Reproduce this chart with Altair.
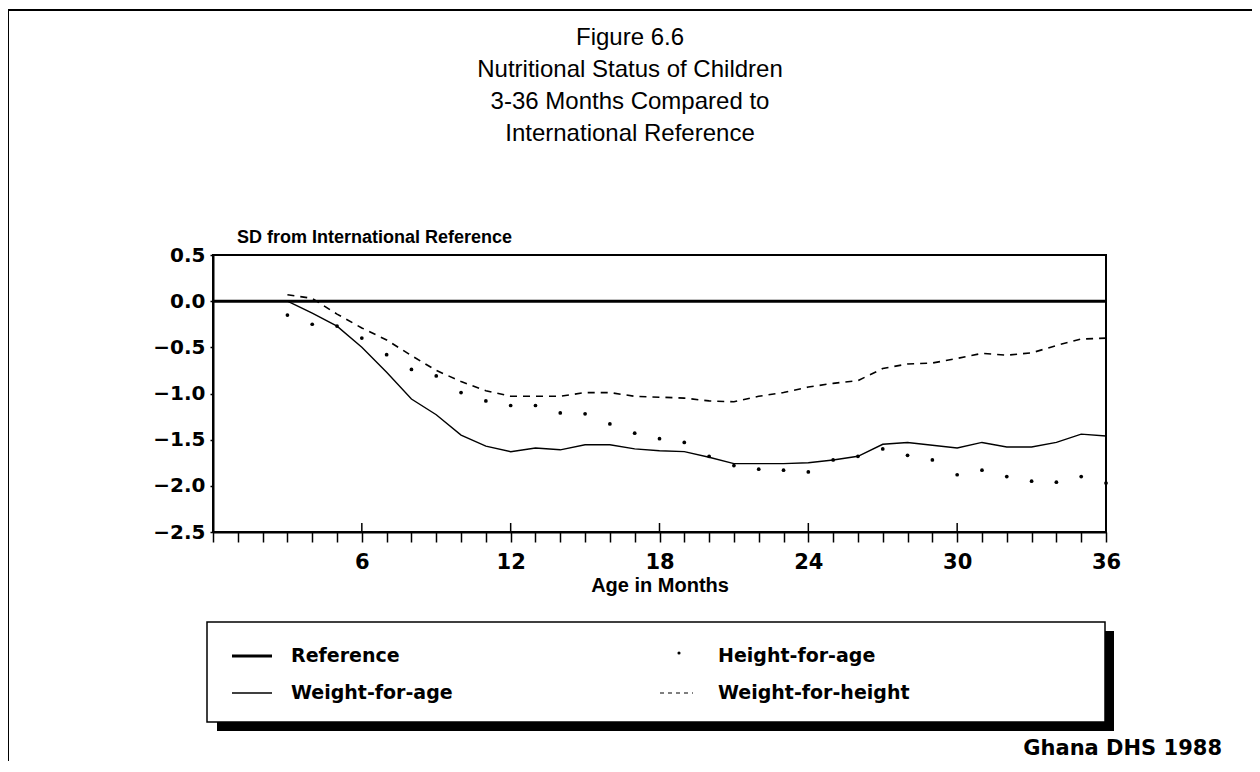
import altair as alt
import pandas as pd

# ---------------- data ----------------
months = list(range(3, 37))
weight_for_age = [0.00, -0.13, -0.27, -0.50, -0.77, -1.06, -1.23, -1.45, -1.57, -1.63,
                  -1.59, -1.61, -1.555, -1.555, -1.60, -1.62, -1.63, -1.69, -1.76, -1.76,
                  -1.76, -1.75, -1.72, -1.68, -1.55, -1.53, -1.56, -1.59, -1.53, -1.58,
                  -1.58, -1.53, -1.44, -1.46]
height_for_age = [-0.15, -0.25, -0.27, -0.40, -0.58, -0.74, -0.81, -0.99, -1.08, -1.13,
                  -1.13, -1.21, -1.22, -1.33, -1.43, -1.49, -1.53, -1.68, -1.78, -1.82,
                  -1.83, -1.85, -1.72, -1.68, -1.60, -1.67, -1.72, -1.88, -1.83, -1.90,
                  -1.95, -1.96, -1.90, -1.97]
weight_for_height = [0.07, 0.03, -0.14, -0.29, -0.42, -0.59, -0.75, -0.87, -0.97, -1.03,
                     -1.03, -1.03, -0.99, -0.99, -1.03, -1.04, -1.05, -1.08, -1.09, -1.03,
                     -0.99, -0.93, -0.89, -0.86, -0.73, -0.68, -0.67, -0.62, -0.565, -0.585,
                     -0.56, -0.48, -0.41, -0.40]
ref_months = [0, 36]
ref_values = [0.0, 0.0]

series_names = ["Reference", "Height-for-age", "Weight-for-age", "Weight-for-height"]
title_lines = ["Figure 6.6", "Nutritional Status of Children",
               "3-36 Months Compared to", "International Reference"]
y_title = "SD from International Reference"
x_title = "Age in Months"
source_note = "Ghana DHS 1988"
y_ticks = [-2.5, -2.0, -1.5, -1.0, -0.5, 0.0, 0.5]
x_ticks = list(range(0, 37))
x_major_ticks = [6, 12, 18, 24, 30, 36]

ref_df = pd.DataFrame({"month": ref_months, "value": ref_values, "series": series_names[0]})
wfa_df = pd.DataFrame({"month": months, "value": weight_for_age, "series": series_names[2]})
hfa_df = pd.DataFrame({"month": months, "value": height_for_age, "series": series_names[1]})
wfh_df = pd.DataFrame({"month": months, "value": weight_for_height, "series": series_names[3]})
major_df = pd.DataFrame({"month": x_major_ticks})

W, H = 893, 277
LBL = "DejaVu Sans"
TXT = "Liberation Sans"

x_enc = alt.X(
    "month:Q",
    scale=alt.Scale(domain=[0, 36], nice=False, zero=False),
    axis=alt.Axis(
        values=x_ticks,
        labelExpr="datum.value % 6 == 0 && datum.value > 0 ? datum.label : ''",
        labelOverlap=False, labelFlush=False,
        title=x_title, titleFont=TXT, titleFontWeight="bold", titleFontSize=20,
        titleColor="black", titlePadding=3,
        labelFont=LBL, labelFontWeight="bold", labelFontSize=21, labelColor="black",
        labelPadding=9,
        domainColor="black", domainWidth=2,
        tickColor="black", tickWidth=1.5, tickSize=10,
        grid=False,
    ),
)
y_enc = alt.Y(
    "value:Q",
    scale=alt.Scale(domain=[-2.5, 0.5], nice=False, zero=False),
    axis=alt.Axis(
        values=y_ticks, format=".1f", title=None,
        labelFont=LBL, labelFontWeight="bold", labelFontSize=20, labelColor="black",
        labelPadding=5, labelOverlap=False, labelFlush=False,
        domainColor="black", domainWidth=2,
        tickColor="black", tickWidth=1.5, tickSize=3,
        grid=False,
    ),
)

ref_layer = alt.Chart(ref_df).mark_line(color="black", strokeWidth=3).encode(x=x_enc, y=y_enc)
wfa_layer = alt.Chart(wfa_df).mark_line(color="black", strokeWidth=1.4).encode(x=x_enc, y=y_enc)
wfh_layer = alt.Chart(wfh_df).mark_line(color="black", strokeWidth=1.6, strokeDash=[7, 6]).encode(x=x_enc, y=y_enc)
hfa_layer = alt.Chart(hfa_df).mark_point(color="black", filled=True, opacity=1, size=14, shape="circle").encode(x=x_enc, y=y_enc)
# major ticks also reach a little above the axis line, as in the reference
major_layer = alt.Chart(major_df).mark_rule(color="black", strokeWidth=1.5).encode(
    x=x_enc, y=alt.value(H - 9), y2=alt.value(H))

one = alt.Data(values=[{}])


def text_mark(text, x, y, size, font=TXT, weight="normal", align="left", baseline="middle", line_height=None):
    kw = dict(text=text, font=font, fontSize=size, fontWeight=weight, align=align,
              baseline=baseline, color="black")
    if line_height is not None:
        kw["lineHeight"] = line_height
    return alt.Chart(one).mark_text(**kw).encode(x=alt.value(x), y=alt.value(y))


def rule(x1, x2, y1, y2, width=1.5, dash=None):
    kw = dict(color="black", strokeWidth=width)
    if dash is not None:
        kw["strokeDash"] = dash
    return alt.Chart(one).mark_rule(**kw).encode(
        x=alt.value(x1), x2=alt.value(x2), y=alt.value(y1), y2=alt.value(y2))


def box(x1, x2, y1, y2, fill, stroke=None, width=0):
    kw = dict(fill=fill, strokeWidth=width)
    if stroke is not None:
        kw["stroke"] = stroke
    return alt.Chart(one).mark_rect(**kw).encode(
        x=alt.value(x1), x2=alt.value(x2), y=alt.value(y1), y2=alt.value(y2))


decor = [
    # page frame (top and left edges)
    rule(-205, 1040, -245, -245, width=2),
    rule(-205, -205, -245, 510, width=2),
    # chart title
    text_mark(title_lines, 417, -210, 24, align="center", baseline="alphabetic", line_height=32),
    # y axis title
    text_mark(y_title, 24, -17, 18, weight="bold"),
    # legend: shadow, box
    box(4, 901, 376, 476, fill="black"),
    box(-6, 892, 367, 467, fill="white", stroke="black", width=1.5),
    # legend samples
    rule(19, 59, 401, 401, width=3),
    rule(19, 59, 438, 438, width=1.4),
    rule(447, 480, 438, 438, width=1.2, dash=[4, 4]),
    alt.Chart(one).mark_point(color="black", filled=True, opacity=1, size=10, shape="circle").encode(
        x=alt.value(466), y=alt.value(398)),
    # legend labels
    text_mark(series_names[0], 78, 401, 19, font=LBL, weight="bold"),
    text_mark(series_names[2], 78, 438, 19, font=LBL, weight="bold"),
    text_mark(series_names[1], 505, 401, 19, font=LBL, weight="bold"),
    text_mark(series_names[3], 505, 438, 19, font=LBL, weight="bold"),
    # source note
    text_mark(source_note, 1009, 494, 21, font=LBL, weight="bold", align="right"),
]

chart = alt.layer(*decor, major_layer, wfh_layer, wfa_layer, hfa_layer, ref_layer).properties(
    width=W, height=H,
    padding={"left": 205, "top": 247, "right": 146, "bottom": 229},
    autosize=alt.AutoSizeParams(type="none"),
    background="white",
).configure_view(stroke="black", strokeWidth=2)

chart.save("out.html", embed_options={"renderer": "svg", "actions": False})
